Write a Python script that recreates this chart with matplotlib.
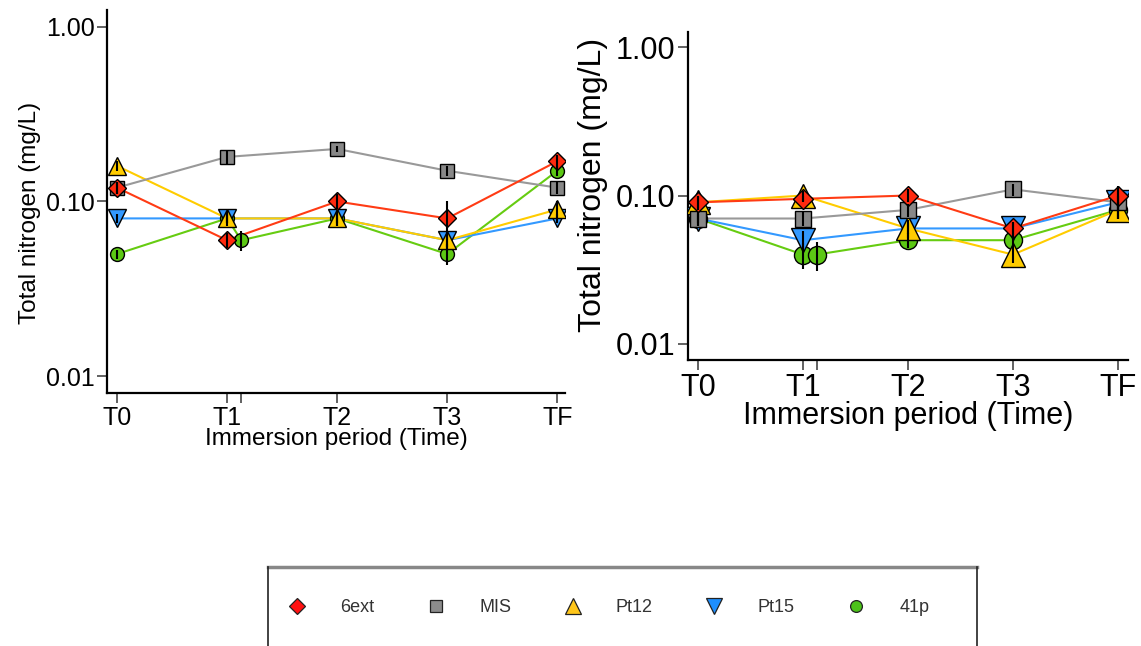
import matplotlib.pyplot as plt
from matplotlib.lines import Line2D

plt.rcParams['font.family'] = ['Liberation Sans', 'DejaVu Sans']

# sampling times (T1 has a second, slightly later sample for 41p)
time_labels = ['T0', 'T1', '', 'T2', 'T3', 'TF']
time_x = [0, 1, 1.13, 2, 3, 4]
main_idx = [0, 1, 3, 4, 5]

series = ['6ext', 'MIS', 'Pt12', 'Pt15', '41p']

# left panel, mean total nitrogen (mg/L)
left_6ext = [0.12, 0.06, 0.10, 0.08, 0.17]
left_mis = [0.12, 0.18, 0.20, 0.15, 0.12]
left_pt12 = [0.16, 0.08, 0.08, 0.06, 0.09]
left_pt15 = [0.08, 0.08, 0.08, 0.06, 0.08]
left_41p = [0.05, 0.08, 0.06, 0.08, 0.05, 0.15]

left_6ext_sd = [0.01, 0.006, 0.01, 0.02, 0.015]
left_mis_sd = [0.01, 0.015, 0.008, 0.01, 0.01]
left_pt12_sd = [0.01, 0.008, 0.008, 0.008, 0.01]
left_pt15_sd = [0.005, 0.005, 0.005, 0.005, 0.005]
left_41p_sd = [0.003, 0.005, 0.008, 0.008, 0.007, 0.01]

# right panel
right_6ext = [0.09, 0.095, 0.10, 0.06, 0.10]
right_mis = [0.07, 0.07, 0.08, 0.11, 0.09]
right_pt12 = [0.09, 0.10, 0.06, 0.04, 0.08]
right_pt15 = [0.07, 0.05, 0.06, 0.06, 0.09]
right_41p = [0.07, 0.04, 0.04, 0.05, 0.05, 0.08]

right_6ext_sd = [0.01, 0.005, 0.01, 0.006, 0.015]
right_mis_sd = [0.008, 0.008, 0.008, 0.01, 0.01]
right_pt12_sd = [0.008, 0.008, 0.008, 0.005, 0.01]
right_pt15_sd = [0.008, 0.008, 0.005, 0.005, 0.02]
right_41p_sd = [0.005, 0.008, 0.009, 0.006, 0.005, 0.01]

line_col = {'6ext': '#ff3b14', 'MIS': '#999999', 'Pt12': '#ffcc00',
            'Pt15': '#3399ff', '41p': '#66cc11'}
face_col = {'6ext': '#ff2a0f', 'MIS': '#888888', 'Pt12': '#ffcc00',
            'Pt15': '#3399ff', '41p': '#5cc814'}
mk = {'6ext': 'D', 'MIS': 's', 'Pt12': '^', 'Pt15': 'v', '41p': 'o'}


def draw_panel(ax, data, sds, msz, fs_tick, fs_xlab, fs_ylab, ylim, xlim,
               ylab_xy):
    # draw back to front so the diamonds end up on top
    order = ['41p', 'Pt15', 'Pt12', 'MIS', '6ext']
    for k, name in enumerate(order):
        y = data[name]
        if len(y) == len(time_x):
            x = time_x
        else:
            x = [time_x[i] for i in main_idx]
        ax.plot(x, y, color=line_col[name], lw=1.5, zorder=2)
        ax.plot(x, y, linestyle='none', marker=mk[name], ms=msz[name],
                mfc=face_col[name], mec='black', mew=1.0, zorder=4 + k)
        ax.errorbar(x, y, yerr=sds[name], fmt='none', ecolor='black',
                    elinewidth=1.5, capsize=0, zorder=20)
    ax.set_yscale('log')
    ax.set_ylim(*ylim)
    ax.set_xlim(*xlim)
    ax.set_yticks([0.01, 0.1, 1.0])
    ax.set_yticklabels(['0.01', '0.10', '1.00'])
    ax.minorticks_off()
    ax.set_xticks(time_x)
    ax.set_xticklabels(time_labels)
    ax.tick_params(labelsize=fs_tick, length=7, width=1.3, color='#555555',
                   pad=2)
    for s in ['top', 'right']:
        ax.spines[s].set_visible(False)
    for s in ['left', 'bottom']:
        ax.spines[s].set_linewidth(1.6)
    ax.set_xlabel('Immersion period (Time)', fontsize=fs_xlab, labelpad=-1)
    ax.set_ylabel('Total nitrogen (mg/L)', fontsize=fs_ylab)
    ax.yaxis.set_label_coords(*ylab_xy)


fig = plt.figure(figsize=(11.41, 6.46), dpi=100)

ax1 = fig.add_axes([0.0938, 0.3916, 0.4014, 0.593])
left_data = {'6ext': left_6ext, 'MIS': left_mis, 'Pt12': left_pt12,
             'Pt15': left_pt15, '41p': left_41p}
left_sds = {'6ext': left_6ext_sd, 'MIS': left_mis_sd, 'Pt12': left_pt12_sd,
            'Pt15': left_pt15_sd, '41p': left_41p_sd}
draw_panel(ax1, left_data, left_sds,
           {'6ext': 9.3, 'MIS': 9.5, 'Pt12': 13.5, 'Pt15': 13.5, '41p': 10},
           18, 17.5, 17.5, (10 ** -2.097, 10 ** 0.097), (-0.09, 4.07),
           (-0.144, 0.47))

ax2 = fig.add_axes([0.603, 0.4427, 0.3856, 0.5077])
right_data = {'6ext': right_6ext, 'MIS': right_mis, 'Pt12': right_pt12,
              'Pt15': right_pt15, '41p': right_41p}
right_sds = {'6ext': right_6ext_sd, 'MIS': right_mis_sd, 'Pt12': right_pt12_sd,
             'Pt15': right_pt15_sd, '41p': right_41p_sd}
draw_panel(ax2, right_data, right_sds,
           {'6ext': 9.8, 'MIS': 12, 'Pt12': 17, 'Pt15': 17, '41p': 13},
           22, 22, 23, (10 ** -2.108, 10 ** 0.101), (-0.095, 4.095),
           (-0.181, 0.534))

# legend box at the bottom
leg_face = {'6ext': '#ff1111', 'MIS': '#8c8c8c', 'Pt12': '#ffc61a',
            'Pt15': '#1e8fff', '41p': '#4cc21a'}
leg_ms = {'6ext': 8, 'MIS': 8.5, 'Pt12': 11, 'Pt15': 11, '41p': 8.5}
handles = [Line2D([], [], linestyle='none', marker=mk[n], ms=leg_ms[n],
                  mfc=leg_face[n], mec='#222222', mew=0.9) for n in series]
fig.legend(handles, series, loc='center left', ncol=5, frameon=False,
           bbox_to_anchor=(0.2524, 0.059), fontsize=13, handletextpad=1.9,
           columnspacing=2.9, handlelength=1.0, borderpad=0,
           borderaxespad=0, labelcolor='#333333')

bx0, bx1, by0, by1 = 268 / 1141, 977 / 1141, 0.0, 1 - 567 / 646
fig.add_artist(Line2D([bx0, bx1], [by1, by1], color='#888888', lw=2.5,
                      transform=fig.transFigure))
fig.add_artist(Line2D([bx0, bx0], [by0, by1], color='#222222', lw=1.2,
                      transform=fig.transFigure))
fig.add_artist(Line2D([bx1, bx1], [by0, by1], color='#222222', lw=1.2,
                      transform=fig.transFigure))

fig.savefig('out.png', dpi=100)
